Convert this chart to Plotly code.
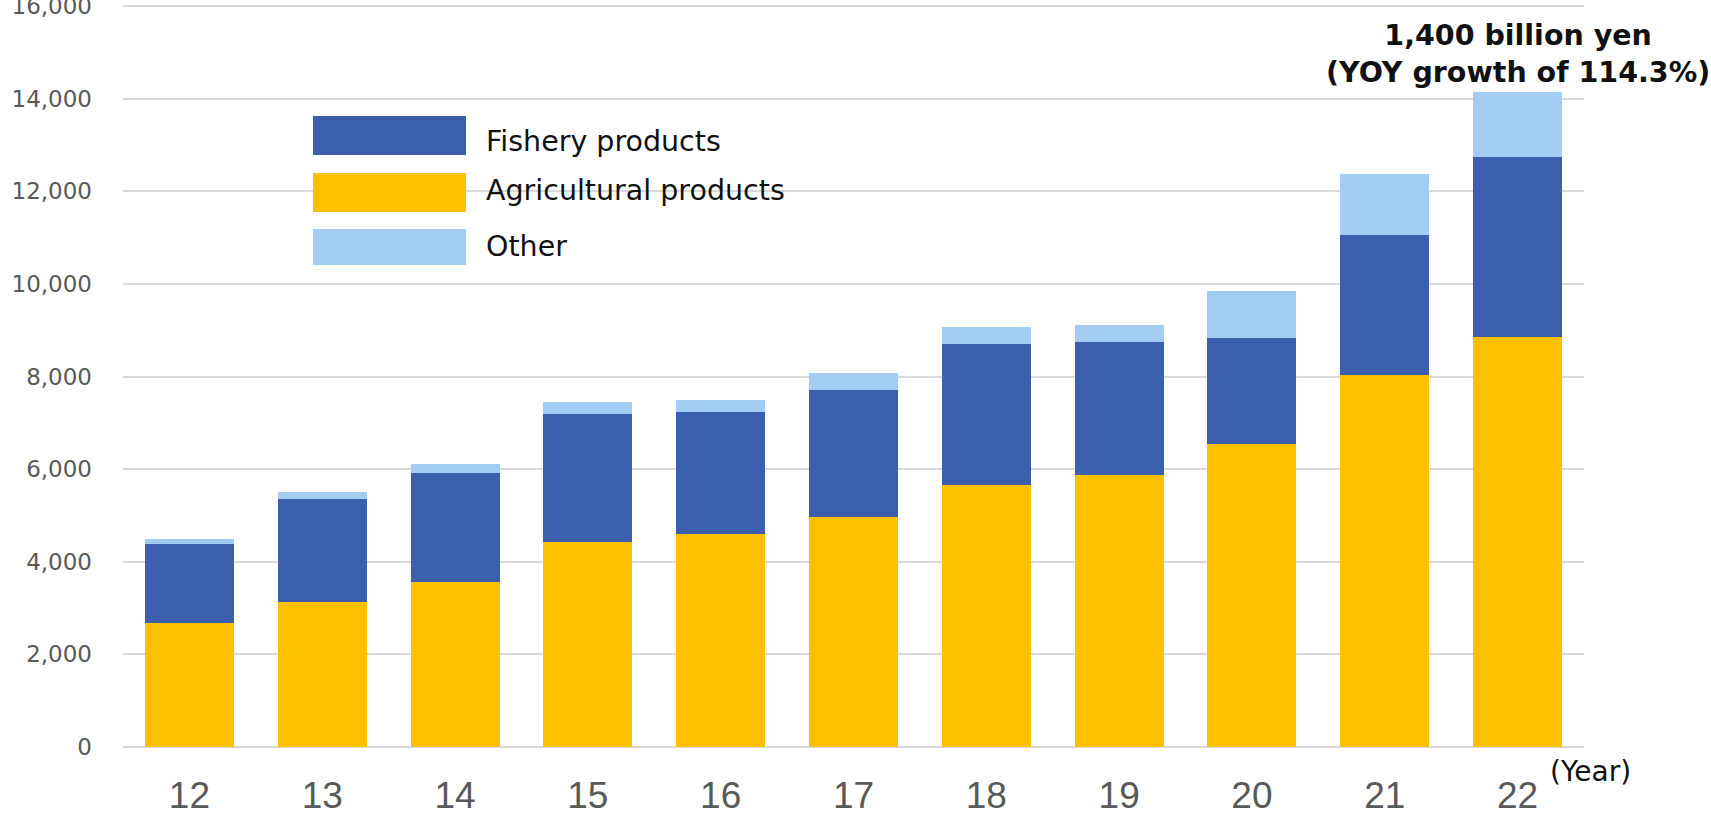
import plotly.graph_objects as go

# Export values by year (unit: 100 million yen)
years = ["12", "13", "14", "15", "16", "17", "18", "19", "20", "21", "22"]
agricultural = [2680, 3136, 3569, 4431, 4593, 4966, 5661, 5878, 6552, 8041, 8862]
fishery = [1698, 2216, 2337, 2757, 2640, 2749, 3031, 2873, 2276, 3015, 3873]
other = [118, 152, 211, 263, 268, 355, 376, 370, 1024, 1326, 1413]

y_ticks = [0, 2000, 4000, 6000, 8000, 10000, 12000, 14000, 16000]

series_names = ["Fishery products", "Agricultural products", "Other"]
series_colors = {"Fishery products": "#3B5EAD",
                 "Agricultural products": "#FFC000",
                 "Other": "#A4CDF3"}

W, H = 1711, 821
L, R, T, B = 123, 127, 1, 74
Y_TOP_PX = 6  # pixel row of the 16,000 gridline

# y scale chosen so the last tick sits just inside the plot area
y_scale = (H - B - Y_TOP_PX) / y_ticks[-1]
y_max = (H - B - T) / y_scale


def px_x(x):
    return (x - L) / (W - L - R)


def px_y(y):
    return (H - B - y) / (H - T - B)


fig = go.Figure()
for name, vals in [("Agricultural products", agricultural),
                   ("Fishery products", fishery),
                   ("Other", other)]:
    fig.add_trace(go.Bar(x=years, y=vals, name=name,
                         marker=dict(color=series_colors[name], line=dict(width=0)),
                         showlegend=False))

totals = [a + f + o for a, f, o in zip(agricultural, fishery, other)]

annotations = [
    dict(x=len(years) - 1, y=totals[-1], xref="x", yref="y",
         xanchor="center", yanchor="bottom",
         text="<b>1,400 billion yen<br>(YOY growth of 114.3%)</b>",
         showarrow=False, yshift=1,
         font=dict(family="DejaVu Sans", size=28.5, color="#111111")),
    dict(x=px_x(1590), y=px_y(772), xref="paper", yref="paper",
         xanchor="center", yanchor="middle",
         text="(Year)", showarrow=False,
         font=dict(family="DejaVu Sans", size=28, color="#111111")),
]

# Legend drawn as large swatches with labels
shapes = []
swatch_rows = [(116, 155), (173, 212), (229, 265)]
text_rows = [141, 191, 246]
for name, (top, bot), ty in zip(series_names, swatch_rows, text_rows):
    shapes.append(dict(type="rect", xref="paper", yref="paper",
                       x0=px_x(313), x1=px_x(466), y0=px_y(bot), y1=px_y(top),
                       fillcolor=series_colors[name], line=dict(width=0)))
    annotations.append(dict(x=px_x(484), y=px_y(ty), xref="paper", yref="paper",
                            xanchor="left", yanchor="middle", text=name,
                            showarrow=False,
                            font=dict(family="DejaVu Sans", size=28.5, color="#111111")))

fig.update_layout(
    width=W, height=H,
    margin=dict(l=L, r=R, t=T, b=B, pad=0, autoexpand=False),
    barmode="stack", bargap=0.33,
    plot_bgcolor="white", paper_bgcolor="white",
    shapes=shapes, annotations=annotations,
    xaxis=dict(type="category", range=[-0.5, len(years) - 0.5], automargin=False,
               showgrid=False, showline=False, ticks="",
               tickfont=dict(family="Liberation Sans", size=37, color="#595959"),
               ticklabelstandoff=23),
    yaxis=dict(range=[0, y_max], tickvals=y_ticks, tickformat=",d", automargin=False,
               showgrid=True, gridcolor="#D9D9D9", gridwidth=1.6,
               zeroline=True, zerolinecolor="#D9D9D9", zerolinewidth=2,
               showline=False, ticks="", ticklabeloverflow="allow",
               tickfont=dict(family="DejaVu Sans", size=23, color="#595959"),
               ticklabelstandoff=30),
)

fig.write_html("out.html")
